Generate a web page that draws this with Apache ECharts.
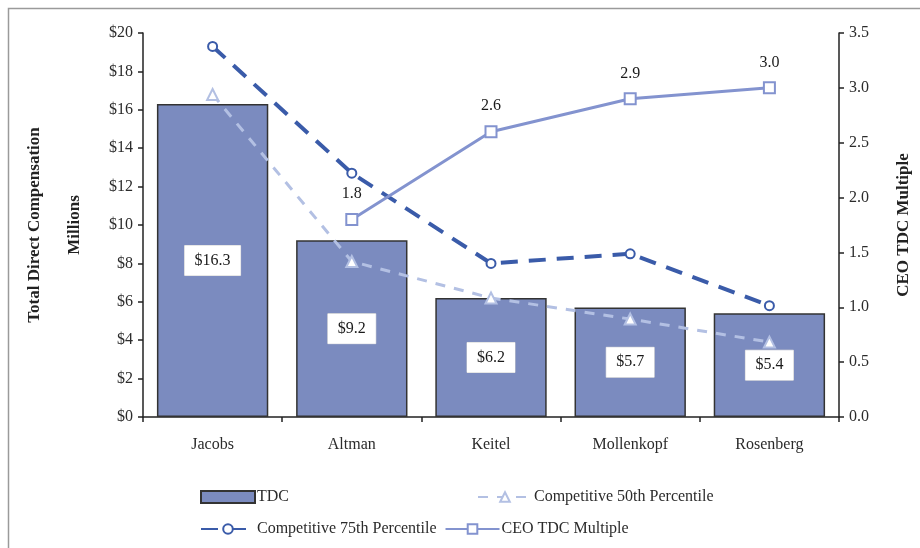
<!DOCTYPE html>
<html>
<head>
<meta charset="utf-8">
<script src="https://cdn.jsdelivr.net/npm/echarts@6/dist/echarts.min.js"></script>
<style>
  html, body { margin: 0; padding: 0; background: #fff; }
  #chart { width: 920px; height: 548px; }
</style>
</head>
<body>
<div id="chart"></div>
<script>
// Executives and their compensation figures ($ millions)
const executives = ['Jacobs', 'Altman', 'Keitel', 'Mollenkopf', 'Rosenberg'];
const tdc = [16.3, 9.2, 6.2, 5.7, 5.4];
const competitive50th = [16.8, 8.1, 6.2, 5.1, 3.9];
const competitive75th = [19.3, 12.7, 8.0, 8.5, 5.8];
// CEO pay as a multiple of each executive's TDC
const ceoMultiple = [1.8, 2.6, 2.9, 3.0];
const ceoMultipleCategories = ['Altman', 'Keitel', 'Mollenkopf', 'Rosenberg'];

const serif = '"Liberation Serif", "DejaVu Serif", serif';
const textColor = '#2b2b2b';
const fontSize = 16;

const ceoData = executives.map(name => {
  const i = ceoMultipleCategories.indexOf(name);
  return i >= 0 ? ceoMultiple[i] : null;
});

const chart = echarts.init(document.getElementById('chart'), null, { renderer: 'canvas' });

chart.setOption({
  backgroundColor: '#fff',
  animation: false,
  textStyle: { fontFamily: serif },
  graphic: [{
    type: 'rect',
    shape: { x: 8.5, y: 8.5, width: 1000, height: 700 },
    style: { fill: 'none', stroke: '#9a9a9a', lineWidth: 1.5 },
    silent: true
  }],
  grid: { left: 143, right: 78, top: 33, bottom: 131 },
  legend: [{
    left: 195, top: 484,
    itemWidth: 54, itemHeight: 12, itemGap: 188,
    textStyle: { fontFamily: serif, fontSize: fontSize, color: textColor, padding: [0, 0, 0, -3] },
    data: [{ name: 'TDC', icon: 'rect' }, 'Competitive 50th Percentile']
  }, {
    left: 195, top: 516,
    itemWidth: 54, itemHeight: 12, itemGap: 8,
    textStyle: { fontFamily: serif, fontSize: fontSize, color: textColor, padding: [0, 0, 0, -3] },
    data: ['Competitive 75th Percentile', 'CEO TDC Multiple']
  }],
  xAxis: {
    type: 'category',
    data: executives,
    axisLine: { lineStyle: { color: '#222', width: 1.5 } },
    axisTick: { show: true, length: 5, lineStyle: { color: '#222', width: 1.5 } },
    axisLabel: { fontFamily: serif, fontSize: fontSize, color: textColor, margin: 20 }
  },
  yAxis: [{
    type: 'value',
    min: 0, max: 20, interval: 2,
    name: 'Total Direct Compensation\n\nMillions',
    nameLocation: 'middle',
    nameRotate: 90,
    nameGap: 58,
    nameTextStyle: { fontFamily: serif, fontSize: 17, fontWeight: 'bold', color: '#222', lineHeight: 20 },
    axisLine: { show: true, lineStyle: { color: '#222', width: 1.5 } },
    axisTick: { show: true, length: 5, lineStyle: { color: '#222', width: 1.5 } },
    axisLabel: { fontFamily: serif, fontSize: fontSize, color: textColor, margin: 10, formatter: v => '$' + v },
    splitLine: { show: false }
  }, {
    type: 'value',
    min: 0, max: 3.5, interval: 0.5,
    position: 'right',
    name: 'CEO TDC Multiple',
    nameLocation: 'middle',
    nameRotate: 90,
    nameGap: 56,
    nameTextStyle: { fontFamily: serif, fontSize: 17, fontWeight: 'bold', color: '#222' },
    axisLine: { show: true, lineStyle: { color: '#222', width: 1.5 } },
    axisTick: { show: true, length: 5, lineStyle: { color: '#222', width: 1.5 } },
    axisLabel: { fontFamily: serif, fontSize: fontSize, color: textColor, margin: 10, formatter: v => v.toFixed(1) },
    splitLine: { show: false }
  }],
  series: [{
    name: 'TDC',
    type: 'bar',
    data: tdc,
    barCategoryGap: '20%',
    itemStyle: { color: '#7b8bbf', borderColor: '#333', borderWidth: 1.5 },
    label: {
      show: true,
      position: 'inside',
      formatter: p => '$' + p.value.toFixed(1),
      fontFamily: serif, fontSize: fontSize, color: '#1a1a1a',
      backgroundColor: '#fff',
      borderColor: '#d0d0d0', borderWidth: 0.5,
      padding: [8, 10, 6, 10]
    },
    z: 1
  }, {
    name: 'Competitive 50th Percentile',
    type: 'line',
    data: competitive50th,
    symbol: 'emptyTriangle',
    symbolSize: 11,
    lineStyle: { color: '#b3c0e3', width: 3, type: [10, 9] },
    itemStyle: { color: '#b3c0e3', borderWidth: 2 },
    z: 3
  }, {
    name: 'Competitive 75th Percentile',
    type: 'line',
    data: competitive75th,
    symbol: 'emptyCircle',
    symbolSize: 9,
    lineStyle: { color: '#3a5ba9', width: 4, type: [17, 11] },
    itemStyle: { color: '#3a5ba9', borderWidth: 2.5 },
    z: 4
  }, {
    name: 'CEO TDC Multiple',
    type: 'line',
    yAxisIndex: 1,
    data: ceoData,
    symbol: 'emptyRect',
    symbolSize: 11,
    lineStyle: { color: '#8393cf', width: 3 },
    itemStyle: { color: '#8393cf', borderWidth: 2 },
    label: {
      show: true,
      position: 'top',
      distance: 11,
      formatter: p => p.value.toFixed(1),
      fontFamily: serif, fontSize: fontSize, color: '#1a1a1a'
    },
    z: 5
  }]
});
</script>
</body>
</html>
